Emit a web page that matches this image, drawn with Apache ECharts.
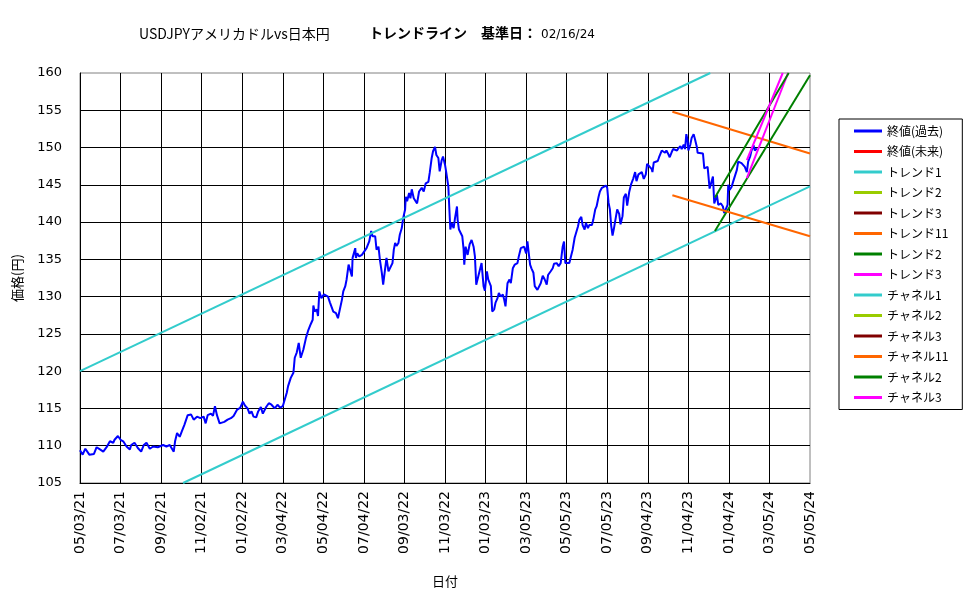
<!DOCTYPE html>
<html>
<head>
<meta charset="utf-8">
<title>USDJPY トレンドライン</title>
<script src="https://cdn.jsdelivr.net/npm/echarts@6/dist/echarts.min.js"></script>
<style>
html,body{margin:0;padding:0;background:#fff;}
#main{width:975px;height:599px;}
</style>
</head>
<body>
<div id="main"></div>
<script>
// x軸は 2021-05-03 からの経過日数
var startDate = "2021-05-03";
var baseDate = "02/16/24";
var xMax = 1098, xStep = 61;
var yMin = 105, yMax = 160, yStep = 5;

// 終値(過去)
var priceDays = [
	0,1,4,8,14,21,25,30,35,40,
	45,50,52,57,61,65,70,75,77,82,
	87,92,96,100,105,110,117,125,130,135,
	139,141,143,146,150,153,157,162,167,171,
	176,181,186,189,192,197,200,203,206,210,
	212,217,222,227,231,236,241,245,248,252,
	255,258,261,265,268,272,275,280,284,288,
	293,297,301,305,308,311,313,317,321,323,
	326,329,332,336,340,343,347,350,351,353,
	356,358,360,363,367,370,373,376,378,381,
	385,388,391,394,396,399,401,404,406,409,
	410,414,415,417,420,424,427,431,435,438,
	440,444,446,449,451,454,456,459,461,464,
	467,470,472,474,476,479,481,484,486,489,
	490,492,495,497,499,502,505,507,510,514,
	517,520,524,526,529,531,534,536,539,541,
	544,546,549,551,554,555,557,559,562,564,
	567,568,570,573,575,577,578,580,583,586,
	589,592,594,596,599,602,604,607,609,612,
	614,617,618,620,623,625,628,630,633,636,
	638,640,643,646,648,651,654,658,660,663,
	666,668,671,673,675,677,679,682,684,688,
	691,693,696,699,702,704,708,711,713,717,
	720,723,726,728,730,733,736,739,741,744,
	746,749,751,754,756,759,761,764,766,770,
	772,775,777,780,782,785,788,791,793,795,
	797,799,801,803,806,808,811,813,816,818,
	821,823,826,829,832,835,837,840,842,845,
	848,851,853,856,860,861,863,866,869,871,
	875,877,880,882,885,887,890,892,895,898,
	900,903,905,908,910,912,914,915,918,920,
	923,925,928,929,932,937,939,942,944,947,
	949,952,954,958,960,964,967,969,972,974,
	975,977,980,983,985,988,990,993,995,998,
	1000,1003,1005,1008,1010,1013,1015,1018
];
var priceValues = [
	109.4,109.2,108.8,109.6,108.8,108.9,109.8,109.5,109.2,109.8,
	110.6,110.4,110.8,111.3,110.8,110.6,109.9,109.5,110.1,110.4,
	109.7,109.2,110.1,110.4,109.6,109.9,109.8,110.1,109.9,110.1,
	109.5,109.2,110.6,111.7,111.2,111.9,112.8,114.1,114.2,113.5,
	113.9,113.7,113.9,113.0,114.1,114.3,114.0,115.3,114.1,113.0,
	112.9,113.2,113.5,113.7,114.0,114.8,115.1,115.9,115.4,115.0,
	114.3,114.6,113.9,113.8,114.6,115.2,114.3,115.2,115.7,115.5,
	115.0,115.5,115.1,115.3,115.1,117.1,118.0,119.1,119.8,121.8,
	122.5,123.8,121.8,122.9,124.5,125.4,126.3,126.9,128.8,128.0,
	128.3,127.4,130.7,129.8,130.3,130.5,130.0,129.2,129.4,128.0,
	127.8,127.1,127.3,129.6,130.7,131.4,132.3,134.3,134.5,132.7,
	135.2,136.5,135.2,135.8,135.4,135.6,135.8,136.5,137.4,138.8,
	138.1,138.1,136.3,136.7,135.0,133.2,131.6,133.8,135.2,133.4,
	133.4,134.5,136.3,137.2,136.8,137.2,138.3,139.2,140.5,141.7,
	143.4,142.8,143.9,143.2,144.4,143.2,143.4,142.5,144.1,144.6,
	144.1,145.2,145.4,146.6,148.6,149.5,150.1,149.0,148.6,146.8,
	148.3,148.8,147.7,146.6,144.8,142.8,139.0,139.9,139.2,140.5,
	142.1,140.3,139.0,139.1,138.1,136.3,134.3,136.7,135.6,137.0,
	137.6,136.7,135.4,131.6,132.7,132.9,134.5,131.4,130.8,133.4,
	132.3,132.5,131.4,128.0,128.3,129.2,129.8,130.5,130.0,130.3,
	129.6,128.7,131.8,132.3,131.8,133.8,134.3,134.5,135.4,136.5,
	136.5,136.7,135.8,137.4,135.8,134.3,133.8,133.2,131.4,130.9,
	130.9,131.8,132.8,132.3,131.6,132.9,133.4,133.8,134.4,134.5,
	134.1,134.5,136.7,137.4,134.5,134.7,134.5,135.6,136.3,137.9,
	138.5,139.4,140.3,140.7,139.6,139.0,139.9,139.2,139.6,139.6,
	140.3,141.7,142.1,143.4,144.1,144.6,144.5,144.9,144.6,142.6,
	141.7,139.5,138.2,139.1,139.3,141.7,141.1,139.7,140.8,143.3,
	143.8,142.2,144.0,145.1,145.8,146.7,145.5,146.4,146.2,146.7,
	145.8,146.4,147.8,147.5,147.1,146.7,148.0,147.8,148.2,148.7,
	149.6,149.8,149.3,149.6,149.1,148.7,149.4,149.8,150.0,149.6,
	149.9,150.2,149.8,150.4,149.8,151.8,150.9,149.6,150.4,151.3,
	151.8,151.1,150.0,149.3,149.4,149.2,147.2,147.0,147.4,144.5,
	144.3,146.1,142.5,143.6,142.3,142.5,142.1,141.2,141.3,142.3,
	145.0,144.3,144.7,145.6,145.8,147.0,148.1,148.3,147.9,148.1,
	147.4,146.7,148.1,148.8,149.6,150.3,149.6,149.9
];

// トレンドライン / チャネル  [経過日数, 価格]
var trend1 = [[155, 105.0], [1098, 144.8]];
var channel1 = [[0, 120.0], [948, 160.0]];
var trend11 = [[891, 154.8], [1098, 149.2]];
var channel11 = [[891, 143.6], [1098, 138.1]];
var trend2g = [[955, 138.8], [1098, 159.7]];
var channel2g = [[955, 143.3], [1066, 160.0]];
var trend3m = [[1003, 145.9], [1065, 160.0]];
var channel3m = [[1003, 148.3], [1057, 160.0]];

var legendNames = ["終値(過去)","終値(未来)","トレンド1","トレンド2","トレンド3","トレンド11","トレンド2\u200b","トレンド3\u200b",
	"チャネル1","チャネル2","チャネル3","チャネル11","チャネル2\u200b","チャネル3\u200b"];

var pad2 = function(n){ return (n < 10 ? "0" : "") + n; };
var dayLabel = function(v){
	var d = new Date(Date.parse(startDate) + v * 86400000);
	return pad2(d.getUTCMonth() + 1) + "/" + pad2(d.getUTCDate()) + "/" + pad2(d.getUTCFullYear() % 100);
};

var lineSeries = function(name, color, data, width){
	return {
		name: name, type: "line", data: data, showSymbol: false, symbol: "none",
		lineStyle: {color: color, width: width || 2},
		itemStyle: {color: color},
		animation: false
	};
};

var priceData = [];
for (var i = 0; i < priceDays.length; i++) {
	priceData.push([priceDays[i], priceValues[i]]);
}

var jp = "'Noto Sans CJK JP', sans-serif";
var num = "'DejaVu Sans', sans-serif";

var option = {
	backgroundColor: "#ffffff",
	animation: false,
	title: [
		{text: "USDJPYアメリカドルvs日本円", left: 134, top: 22, textStyle: {fontFamily: jp, fontSize: 14, fontWeight: "normal", color: "#000"}},
		{text: "トレンドライン　基準日：", left: 364, top: 21, textStyle: {fontFamily: jp, fontSize: 14, fontWeight: "bold", color: "#000"}},
		{text: baseDate, left: 536, top: 24, textStyle: {fontFamily: num, fontSize: 12, fontWeight: "normal", color: "#000"}}
	],
	legend: {
		data: legendNames,
		orient: "vertical",
		left: 839, top: 119,
		padding: [4, 14, 4, 15],
		itemGap: 4.5,
		itemWidth: 28, itemHeight: 3,
		icon: "rect",
		borderColor: "#000", borderWidth: 1,
		selectedMode: false,
		formatter: function(name){ return name.replace("\u200b", ""); },
		textStyle: {fontFamily: jp, fontSize: 12, color: "#000", lineHeight: 16}
	},
	grid: {left: 80, right: 165, top: 73, bottom: 116, show: true, borderColor: "#808080", borderWidth: 1},
	xAxis: {
		type: "value", min: 0, max: xMax, interval: xStep,
		name: "日付", nameLocation: "middle", nameGap: 92,
		nameTextStyle: {fontFamily: jp, fontSize: 13, color: "#000"},
		axisLine: {lineStyle: {color: "#000", width: 1}},
		axisTick: {show: false},
		splitLine: {show: true, showMinLine: false, showMaxLine: false, lineStyle: {color: "#000", width: 1}},
		axisLabel: {rotate: 90, margin: 8, fontFamily: num, fontSize: 14, color: "#000", formatter: dayLabel, showMaxLabel: true, showMinLabel: true}
	},
	yAxis: {
		type: "value", min: yMin, max: yMax, interval: yStep,
		name: "価格(円)", nameLocation: "middle", nameGap: 56, nameRotate: 90,
		nameTextStyle: {fontFamily: jp, fontSize: 13, color: "#000"},
		axisLine: {show: true, lineStyle: {color: "#000", width: 1}},
		axisTick: {show: false},
		splitLine: {show: true, showMinLine: false, showMaxLine: false, lineStyle: {color: "#000", width: 1}},
		axisLabel: {margin: 18, fontFamily: num, fontSize: 13, color: "#000"}
	},
	series: [
		lineSeries(legendNames[0], "#0000FF", priceData, 2),
		lineSeries(legendNames[1], "#FF0000", []),
		lineSeries(legendNames[2], "#33CCCC", trend1),
		lineSeries(legendNames[3], "#99CC00", []),
		lineSeries(legendNames[4], "#800000", []),
		lineSeries(legendNames[5], "#FF6600", trend11),
		lineSeries(legendNames[6], "#008000", trend2g),
		lineSeries(legendNames[7], "#FF00FF", trend3m),
		lineSeries(legendNames[8], "#33CCCC", channel1),
		lineSeries(legendNames[9], "#99CC00", []),
		lineSeries(legendNames[10], "#800000", []),
		lineSeries(legendNames[11], "#FF6600", channel11),
		lineSeries(legendNames[12], "#008000", channel2g),
		lineSeries(legendNames[13], "#FF00FF", channel3m)
	]
};

var chart = echarts.init(document.getElementById("main"), null, {renderer: "canvas"});
chart.setOption(option);
</script>
</body>
</html>
